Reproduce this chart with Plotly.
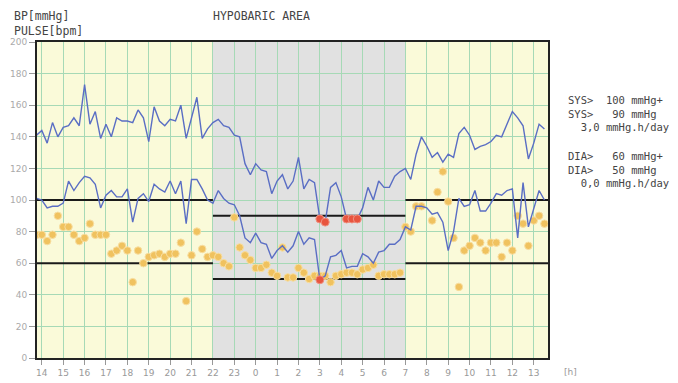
import pandas as pd
import plotly.graph_objects as go

# ---- data ----
start_time = "2024-01-01 13:45"
n_points = 96
interval = "15min"

sys_vals = [141, 144, 136, 149, 140, 146, 147, 152, 147, 173, 148, 156, 139, 148, 140, 152, 150, 150, 149, 157, 152, 137, 159, 150, 147, 151,
            150, 160, 139, 152, 165, 139, 145, 149, 151, 147, 146, 141, 140, 123, 116, 123, 119, 118, 104, 112, 116, 107, 112, 127,
            107, 113, 111, 88, 86, 108, 111, 102, 88, 88, 88, 95, 108, 100, 112, 108, 108, 115, 118, 120, 113, 129, 140, 134,
            127, 130, 124, 129, 127, 142, 146, 141, 132, 134, 135, 137, 141, 140, 148, 156, 152, 147, 126, 136, 148, 145]

dia_vals = [101, 100, 95, 96, 96, 98, 112, 106, 111, 115, 114, 110, 95, 103, 106, 102, 102, 107, 86, 101, 104, 99, 110, 107, 105, 112,
            104, 112, 85, 113, 113, 107, 100, 98, 106, 101, 98, 97, 90, 76, 73, 79, 73, 72, 63, 68, 71, 67, 71, 80,
            72, 76, 75, 49.5, 52, 64, 65, 68, 57, 58, 58, 66, 64, 60, 67, 68, 72, 72, 75, 83, 81, 96, 96, 95,
            91, 92, 86, 68, 80, 101, 96, 97, 106, 93, 93, 98, 104, 103, 106, 107, 76, 111, 83, 95, 106, 100]

pulse_vals = [78, 78, 74, 78, 90, 83, 83, 78, 74, 76, 85, 78, 78, 78, 66, 68, 71, 68, 48, 68, 60, 64, 65, 66, 64, 66,
              66, 73, 36, 65, 80, 69, 64, 65, 64, 60, 58, 89, 70, 65, 62, 57, 57, 59, 54, 52, 70, 51, 51, 57,
              54, 50, 52, 52, 52, 48, 52, 53, 54, 54, 53, 56, 57, 59, 52, 53, 53, 53, 54, 83, 80, 96, 96, None,
              87, 105, 118, 99, 76, 45, 68, 71, 76, 73, 68, 73, 73, 64, 73, 68, 90, 85, 71, 87, 90, 85]

x_range = ["2024-01-01 13:46:30", "2024-01-02 13:40:00"]
night_start = "2024-01-01 22:00"
night_end = "2024-01-02 07:00"
sys_day_thr, sys_night_thr = 100, 90
dia_day_thr, dia_night_thr = 60, 50

y_ticks = [0, 20, 40, 60, 80, 100, 120, 140, 160, 180, 200]

right_lines = ["SYS>  100 mmHg+", "SYS>   90 mmHg", "  3,0 mmHg.h/day",
               "DIA>   60 mmHg+", "DIA>   50 mmHg", "  0,0 mmHg.h/day"]

# ---- build ----
W, H = 678, 383
PL, PR, PT, PB = 37, 548, 42, 358   # plot area in pixels

def px(x):
    return (x - PL) / (PR - PL)

def py(y):
    return (PB - y) / (PB - PT)

times = pd.date_range(start_time, periods=n_points, freq=interval)
ns, ne = pd.Timestamp(night_start), pd.Timestamp(night_end)
night = [(t >= ns) and (t <= ne) for t in times]
red_sys_x = [t for t, v, nt in zip(times, sys_vals, night) if nt and v < sys_night_thr]
red_sys_y = [v for t, v, nt in zip(times, sys_vals, night) if nt and v < sys_night_thr]
red_dia_x = [t for t, v, nt in zip(times, dia_vals, night) if nt and v < dia_night_thr]
red_dia_y = [v for t, v, nt in zip(times, dia_vals, night) if nt and v < dia_night_thr]

line_color = "#5a6ec4"
fig = go.Figure()
fig.add_trace(go.Scatter(x=times, y=pulse_vals, mode="markers",
                         marker=dict(size=7.5, color="#f0c25f", line=dict(color="#f8dea0", width=1)),
                         showlegend=False))
fig.add_trace(go.Scatter(x=times, y=sys_vals, mode="lines",
                         line=dict(color=line_color, width=1.4), showlegend=False))
fig.add_trace(go.Scatter(x=times, y=dia_vals, mode="lines",
                         line=dict(color=line_color, width=1.4), showlegend=False))
fig.add_trace(go.Scatter(x=red_sys_x + red_dia_x, y=red_sys_y + red_dia_y, mode="markers",
                         marker=dict(size=8, color="#e8553f", line=dict(color="#f09080", width=1)),
                         showlegend=False))

shapes = [dict(type="rect", xref="x", yref="paper", x0=ns, x1=ne, y0=0, y1=1,
               fillcolor="#e1e1e1", line=dict(width=0), layer="below")]
segments = [(x_range[0], ns, sys_day_thr), (ns, ne, sys_night_thr), (ne, x_range[1], sys_day_thr),
            (x_range[0], ns, dia_day_thr), (ns, ne, dia_night_thr), (ne, x_range[1], dia_day_thr)]
for x0, x1, yv in segments:
    shapes.append(dict(type="line", xref="x", yref="y", x0=x0, x1=x1, y0=yv, y1=yv,
                       line=dict(color="#1a1a1a", width=2), layer="between"))

mono = "DejaVu Sans Mono"
ann = []
for txt, x, y in [("BP[mmHg]", 12, 16), ("PULSE[bpm]", 12, 31), ("HYPOBARIC\u00a0AREA", 211, 16)]:
    ann.append(dict(text=txt, xref="paper", yref="paper", showarrow=False,
                    x=px(x), y=py(y), xanchor="left", yanchor="middle",
                    font=dict(family=mono, size=11.5, color="#444")))
right_y = [100, 113.5, 127, 156, 169.5, 183]
for txt, yy in zip(right_lines, right_y):
    ann.append(dict(text=txt.replace(" ", "\u00a0"), xref="paper", yref="paper", showarrow=False,
                    x=px(566), y=py(yy), xanchor="left", yanchor="middle",
                    font=dict(family=mono, size=10.5, color="#444")))
ann.append(dict(text="[h]", xref="paper", yref="paper", showarrow=False,
                x=px(562), y=py(372), xanchor="left", yanchor="middle",
                font=dict(family="DejaVu Sans", size=9, color="#999")))

fig.update_layout(
    width=W, height=H,
    margin=dict(l=PL, r=W - PR, t=PT, b=H - PB, autoexpand=False),
    paper_bgcolor="white", plot_bgcolor="#fafad9",
    shapes=shapes, annotations=ann, hovermode=False,
    xaxis=dict(type="date", range=x_range, tick0="2024-01-01 14:00", dtick=3600000,
               tickformat="%-H", showgrid=True, gridcolor="#a6d9b6", gridwidth=1,
               showline=True, linecolor="#222", linewidth=2, mirror=True,
               ticks="outside", ticklen=5, tickcolor="#999", automargin=False,
               tickfont=dict(family="DejaVu Sans", size=9, color="#999"), zeroline=False),
    yaxis=dict(range=[0, 200], tickvals=y_ticks, showgrid=True, gridcolor="#a6d9b6", gridwidth=1,
               showline=True, linecolor="#222", linewidth=2, mirror=True,
               ticks="outside", ticklen=6, tickcolor="#999", automargin=False,
               tickfont=dict(family="DejaVu Sans", size=9, color="#aaa"), zeroline=False),
)

fig.write_html("out.html", config={"displayModeBar": False},
               post_script="document.body.style.margin='0';document.body.style.overflow='hidden';")
